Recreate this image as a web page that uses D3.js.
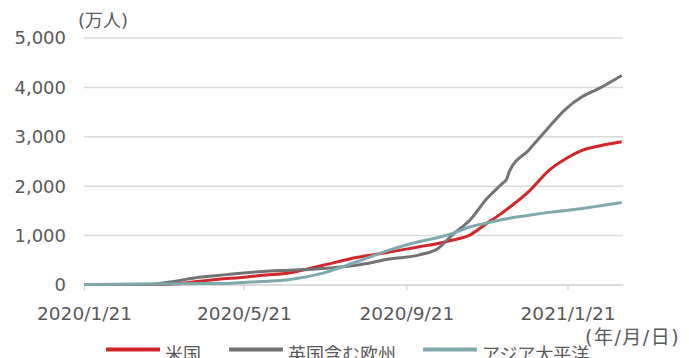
<!DOCTYPE html>
<html>
<head>
<meta charset="utf-8">
<script src="https://cdn.jsdelivr.net/npm/d3@7"></script>
<style>
  html, body { margin: 0; padding: 0; background: #fff; }
  svg text { font-family: "DejaVu Sans", "Noto Sans CJK JP", sans-serif; fill: #595959; }
</style>
</head>
<body>
<svg id="chart" width="689" height="358"></svg>
<script>
// Cumulative confirmed cases (unit: 10,000 people)
const dates = [
  "2020-01-21", "2020-02-15", "2020-03-10", "2020-03-26", "2020-04-17",
  "2020-05-08", "2020-05-23", "2020-06-04", "2020-06-25", "2020-07-20",
  "2020-08-14", "2020-09-08", "2020-10-01", "2020-10-15", "2020-10-26",
  "2020-11-08", "2020-11-21", "2020-12-02", "2020-12-06", "2020-12-08",
  "2020-12-23", "2021-01-07", "2021-01-20", "2021-02-01", "2021-02-14",
  "2021-03-03"
];
const usValues = [
  0, 0, 0, 7, 65,
  120, 150, 185, 240, 390,
  545, 655, 765, 830, 900,
  1000, 1240, 1440, 1520, 1560,
  1890, 2310, 2550, 2715, 2805,
  2890
];
const europeValues = [
  0, 0, 3, 50, 145,
  200, 238, 265, 290, 325,
  390, 515, 600, 730, 1010,
  1300, 1740, 2030, 2140, 2290,
  2730, 3190, 3560, 3800, 3970,
  4230
];
const asiaPacValues = [
  0, 7, 9, 12, 18,
  22, 45, 60, 100, 230,
  455, 695, 870, 950, 1035,
  1165, 1245, 1310, 1330, 1340,
  1400, 1460, 1500, 1540, 1590,
  1660
];
const seriesNames = ["米国", "英国含む欧州", "アジア太平洋"];
const seriesColors = ["#d0262a", "#737373", "#7eaaae"];
const yTicks = [0, 1000, 2000, 3000, 4000, 5000];
const xTickDates = ["2020-01-21", "2020-05-21", "2020-09-21", "2021-01-21"];
const yUnitLabel = "(万人)";
const xUnitLabel = "(年/月/日)";

const parse = d3.timeParse("%Y-%m-%d");
const fmtX = d => `${d.getFullYear()}/${d.getMonth() + 1}/${d.getDate()}`;

const svg = d3.select("#chart");
const plot = { left: 84, right: 623, top: 37.5, bottom: 284.5 };

const x = d3.scaleTime()
  .domain([parse("2020-01-21"), parse("2021-03-04")])
  .range([plot.left, plot.right]);
const y = d3.scaleLinear().domain([0, 5000]).range([plot.bottom, plot.top]);

// horizontal gridlines + y labels
const yAxis = d3.axisLeft(y)
  .tickValues(yTicks)
  .tickSize(-(plot.right - plot.left))
  .tickPadding(18)
  .tickFormat(d3.format(","));
const gy = svg.append("g").attr("transform", `translate(${plot.left},0)`).call(yAxis);
gy.select(".domain").remove();
gy.selectAll(".tick line").attr("stroke", "#d9d9d9").attr("stroke-width", 1.5);
gy.selectAll(".tick text").attr("font-size", 18).attr("dy", "0.36em");

// x axis line with small ticks
const xAxis = d3.axisBottom(x)
  .tickValues(xTickDates.map(parse))
  .tickSize(6)
  .tickSizeOuter(0)
  .tickPadding(16.5)
  .tickFormat(fmtX);
const gx = svg.append("g").attr("transform", `translate(0,${plot.bottom})`).call(xAxis);
gx.select(".domain").attr("stroke", "#d9d9d9").attr("stroke-width", 1.5);
gx.selectAll(".tick line").attr("stroke", "#d9d9d9").attr("stroke-width", 1.5);
gx.selectAll(".tick text").attr("font-size", 18.5);

// series lines
const allValues = [usValues, europeValues, asiaPacValues];
const line = d3.line()
  .x(d => x(d.date))
  .y(d => y(d.value))
  .curve(d3.curveMonotoneX);

allValues.forEach((vals, i) => {
  const pts = dates.map((d, j) => ({ date: parse(d), value: vals[j] }));
  svg.append("path")
    .datum(pts)
    .attr("fill", "none")
    .attr("stroke", seriesColors[i])
    .attr("stroke-width", 3)
    .attr("stroke-linejoin", "round")
    .attr("d", line);
});

// unit labels
svg.append("text").attr("x", 78).attr("y", 27).attr("font-size", 18).text(yUnitLabel);
svg.append("text").attr("x", 585).attr("y", 344).attr("font-size", 19)
  .attr("letter-spacing", 1.5).text(xUnitLabel);

// legend
const legendX = [106, 229, 423];
const legend = svg.append("g");
seriesNames.forEach((name, i) => {
  const g = legend.append("g").attr("transform", `translate(${legendX[i]},349.5)`);
  g.append("line").attr("x1", 0).attr("x2", 54).attr("y1", 0).attr("y2", 0)
    .attr("stroke", seriesColors[i]).attr("stroke-width", 4);
  g.append("text").attr("x", 59).attr("y", 11).attr("font-size", 18).text(name);
});
</script>
</body>
</html>
